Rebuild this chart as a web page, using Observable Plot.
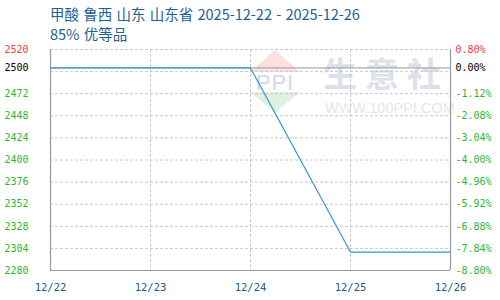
<!DOCTYPE html>
<html>
<head>
<meta charset="utf-8">
<script src="https://cdn.jsdelivr.net/npm/d3@7"></script>
<script src="https://cdn.jsdelivr.net/npm/@observablehq/plot@0.6"></script>
<style>
  html, body { margin: 0; padding: 0; background: #fff; }
  #wrap { position: relative; width: 500px; height: 300px; overflow: hidden; }
  #chart { position: absolute; left: 0; top: 0; }
  #chart svg { overflow: visible; }
  .title { position: absolute; left: 50px; font-family: "Noto Sans CJK SC", "Noto Sans", sans-serif; font-size: 14.5px; line-height: 16px; color: #1d6094; white-space: nowrap; word-spacing: 1px; }
  .wm { position: absolute; left: 0; top: 0; pointer-events: none; white-space: nowrap; }
</style>
</head>
<body>
<div id="wrap">
  <div class="wm" id="wm"></div>
  <div id="chart"></div>
  <div class="title" style="top:6px">甲酸 鲁西 山东 山东省 2025-12-22 - 2025-12-26</div>
  <div class="title" style="top:26px">85% 优等品</div>
</div>
<script>
// ---- data ----
const days = ["12/22", "12/23", "12/24", "12/25", "12/26"];
const prices = [2500, 2500, 2500, 2300, 2300];
const baseValue = 2500;
const gridValues = [2304, 2328, 2352, 2376, 2400, 2424, 2448, 2472, 2496, 2520];
const leftTickValues = [2520, 2500, 2472, 2448, 2424, 2400, 2376, 2352, 2328, 2304, 2280];
const leftTickLabels = ["2520", "2500", "2472", "2448", "2424", "2400", "2376", "2352", "2328", "2304", "2280"];
const rightTickLabels = ["0.80%", "0.00%", "-1.12%", "-2.08%", "-3.04%", "-4.00%", "-4.96%", "-5.92%", "-6.88%", "-7.84%", "-8.80%"];

const series = days.map((d, i) => ({day: d, price: prices[i]}));
const ticks = leftTickValues.map((v, i) => ({v, left: leftTickLabels[i], right: rightTickLabels[i]}));
const tickColor = (v) => v > baseValue ? "#f03c3c" : v === baseValue ? "#000000" : "#2fb52f";

const mono = "DejaVu Sans Mono, monospace";

const chart = Plot.plot({
  width: 500,
  height: 300,
  marginLeft: 50,
  marginRight: 50,
  marginTop: 49,
  marginBottom: 30,
  style: {background: "transparent", fontFamily: mono},
  x: {type: "point", domain: days, padding: 0, axis: null},
  y: {domain: [2280, 2520], axis: null},
  marks: [
    Plot.ruleY(gridValues, {stroke: "#c8c8c8", strokeDasharray: "3,2", strokeWidth: 1}),
    Plot.ruleX(days.slice(1, -1), {stroke: "#c8c8c8", strokeDasharray: "3,2", strokeWidth: 1}),
    Plot.ruleY([baseValue], {stroke: "#999999", strokeWidth: 1}),
    Plot.ruleX([days[0], days[days.length - 1]], {stroke: "#999999", strokeWidth: 1.2}),
    Plot.ruleY([2280], {stroke: "#999999", strokeWidth: 1.2}),
    Plot.line(series, {x: "day", y: "price", stroke: "#3a93d6", strokeWidth: 1.2}),
    Plot.text(ticks, {y: "v", text: "left", frameAnchor: "left", textAnchor: "end", dx: -22, fill: d => tickColor(d.v), fontSize: 10, fontFamily: mono}),
    Plot.text(ticks, {y: "v", text: "right", frameAnchor: "right", textAnchor: "start", dx: 5, fill: d => tickColor(d.v), fontSize: 10, fontFamily: mono}),
    Plot.text(days, {x: d => d, text: d => d, frameAnchor: "bottom", dy: 17, lineAnchor: "middle", fill: "#1d5a8a", fontSize: 10.5, fontFamily: mono})
  ]
});
document.getElementById("chart").appendChild(chart);

// ---- watermark (decoration) ----
document.getElementById("wm").innerHTML = `
<svg width="500" height="300" style="position:absolute;left:0;top:0">
  <polygon points="275,50 300,72 250,72" fill="#fbe0dd"/>
  <polygon points="250,92 300,92 275,113" fill="#dff1df"/>
  <text x="275" y="90" text-anchor="middle" font-family="Liberation Sans, sans-serif" font-size="22" fill="#cfd8ec" letter-spacing="1">PPI</text>
  <text x="323" y="87" font-family="Noto Sans CJK SC, sans-serif" font-weight="bold" font-size="34" fill="#dde1ec" letter-spacing="8">生意社</text>
  <text x="325" y="113" font-family="Liberation Sans, sans-serif" font-size="14.5" fill="#e6e6e6">WWW.100PPI.COM</text>
</svg>`;
</script>
</body>
</html>
